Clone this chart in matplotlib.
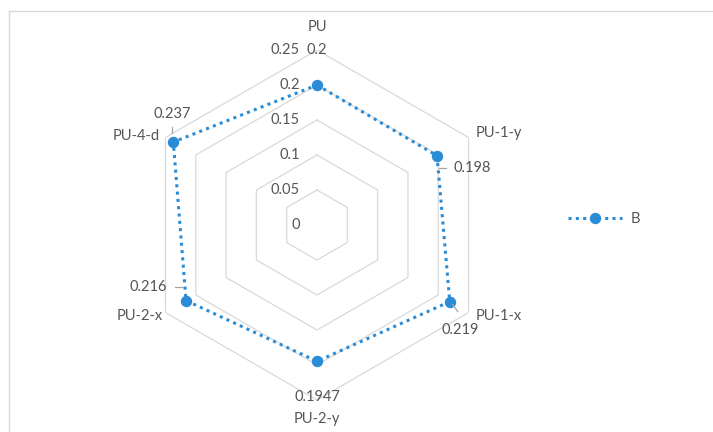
import numpy as np
import matplotlib
matplotlib.use("Agg")
import matplotlib.pyplot as plt
from matplotlib.lines import Line2D

# Series data
categories = ["PU", "PU-1-y", "PU-1-x", "PU-2-y", "PU-2-x", "PU-4-d"]
values_b = [0.2, 0.198, 0.219, 0.1947, 0.216, 0.237]
value_labels = ["0.2", "0.198", "0.219", "0.1947", "0.216", "0.237"]
series_name = "B"

# Radial scale
r_ticks = [0, 0.05, 0.1, 0.15, 0.2, 0.25]
r_tick_labels = ["0", "0.05", "0.1", "0.15", "0.2", "0.25"]
r_max = 0.25

plt.rcParams["font.family"] = ["Lato", "DejaVu Sans"]
TEXT = "#555555"
GRID = "#d9d9d9"
BLUE = "#2b8cd6"
FS = 10.5

W, H = 713, 432
fig = plt.figure(figsize=(W / 100, H / 100), dpi=100)

# Chart-area frame
fig.add_artist(Line2D([9 / W, 1.01], [1 - 11 / H] * 2, transform=fig.transFigure,
                      color=GRID, lw=1.0))
fig.add_artist(Line2D([9 / W] * 2, [-0.01, 1 - 11 / H], transform=fig.transFigure,
                      color=GRID, lw=1.0))

# Polar plot area: center (317, 225) px, outer radius 175 px
cx, cy, rad = 317, 225, 175
ax = fig.add_axes([(cx - rad) / W, (H - cy - rad) / H, 2 * rad / W, 2 * rad / H],
                  projection="polar")
ax.set_theta_zero_location("N")
ax.set_theta_direction(-1)
ax.set_ylim(0, r_max)
ax.grid(False)
ax.spines["polar"].set_visible(False)
ax.set_xticks([])
ax.set_yticks([])
ax.patch.set_alpha(0)

n = len(categories)
theta = np.linspace(0, 2 * np.pi, n, endpoint=False)
theta_closed = np.append(theta, theta[0])

# Hexagonal gridlines
for lvl in r_ticks[1:]:
    ax.plot(theta_closed, [lvl] * (n + 1), color=GRID, lw=0.9, zorder=1)

# Radial tick labels along the top spoke
for lvl, lab in zip(r_ticks, r_tick_labels):
    ax.annotate(lab, xy=(0, lvl), xytext=(-17, 0), textcoords="offset pixels",
                ha="right", va="center", fontsize=FS, color=TEXT)

# Category labels (offsets from the outer vertex, pixels)
cat_offsets = [(0, 23, "center"), (7, 4, "left"), (7, -4, "left"),
               (0, -19, "center"), (-3, -3, "right"), (-6, 2, "right")]
for t, lab, (dx, dy, ha) in zip(theta, categories, cat_offsets):
    ax.annotate(lab, xy=(t, r_max), xytext=(dx, dy), textcoords="offset pixels",
                ha=ha, va="center", fontsize=FS, color=TEXT)

# Data series
vals_closed = values_b + [values_b[0]]
ax.plot(theta_closed, vals_closed, color=BLUE, lw=2.2, linestyle=(0, (1, 1.4)),
        zorder=3)
ax.plot(theta, values_b, linestyle="none", marker="o", markersize=7.2,
        color=BLUE, zorder=4)

# Data labels with their leader lines (pixel offsets from the point)
lab_offsets = [(0, 35, "center"), (16, -12, "left"), (10, -28, "center"),
               (0, -36, "center"), (-19, 14, "right"), (-1, 28, "center")]
leaders = [None, ((2, -12), (9, -12)), ((3, -3), (8, -10)), None,
           ((-11, 14), (-4, 14)), ((-1, 15), (-1, 9))]
for t, v, lab, (dx, dy, ha), ld in zip(theta, values_b, value_labels,
                                       lab_offsets, leaders):
    ax.annotate(lab, xy=(t, v), xytext=(dx, dy), textcoords="offset pixels",
                ha=ha, va="center", fontsize=FS, color=TEXT, zorder=5)
    if ld is not None:
        (x0, y0), (x1, y1) = ld
        px, py = ax.transData.transform((t, v))
        fig.add_artist(Line2D([(px + x0) / W, (px + x1) / W],
                              [(py + y0) / H, (py + y1) / H],
                              transform=fig.transFigure, color="#a6a6a6", lw=0.9))

# Legend
handle = Line2D([], [], color=BLUE, lw=2.2, linestyle=(0, (1, 1.4)),
                marker="o", markersize=7.2)
fig.legend([handle], [series_name], loc="center left",
           bbox_to_anchor=(568 / W, 1 - 219 / H), frameon=False,
           handlelength=3.7, handletextpad=0.6, numpoints=1,
           prop={"size": FS}, labelcolor=TEXT, borderaxespad=0, borderpad=0)

fig.savefig("out.png", dpi=100, facecolor="white")
